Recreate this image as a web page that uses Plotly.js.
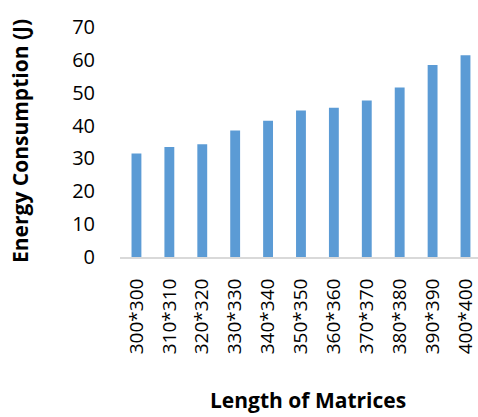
<!DOCTYPE html>
<html>
<head>
<meta charset="utf-8">
<script src="https://cdn.plot.ly/plotly-3.0.1.min.js"></script>
<style>html,body{margin:0;padding:0;background:#fff;}#chart{width:478px;height:417px;}</style>
</head>
<body>
<div id="chart"></div>
<script>
const categories = ["300*300","310*310","320*320","330*330","340*340","350*350","360*360","370*370","380*380","390*390","400*400"];
const energy = [31.5, 33.5, 34.3, 38.5, 41.5, 44.6, 45.4, 47.6, 51.6, 58.4, 61.4];
const yTicks = [0, 10, 20, 30, 40, 50, 60, 70];
const xTitle = "Length of Matrices";
const yTitle = "Energy Consumption (J)";

const font = "'Open Sans', sans-serif";
Plotly.newPlot('chart', [{
  type: 'bar',
  x: categories,
  y: energy,
  marker: {color: '#5B9BD5'},
  width: 0.3,
  hoverinfo: 'none'
}], {
  width: 478, height: 417,
  margin: {l: 120, r: 0, t: 27, b: 160, pad: 0},
  paper_bgcolor: '#fff', plot_bgcolor: '#fff',
  showlegend: false,
  font: {family: font, color: '#000'},
  xaxis: {
    type: 'category',
    range: [-0.5, 10.38],
    tickangle: -90,
    tickfont: {size: 19, family: font, color: '#000'},
    showgrid: false,
    zeroline: false,
    showline: true, linecolor: '#d9d9d9', linewidth: 2,
    ticks: 'outside', ticklen: 12, tickcolor: 'rgba(0,0,0,0)'
  },
  yaxis: {
    range: [0, 70],
    tickvals: yTicks,
    ticktext: yTicks.map(String),
    tickfont: {size: 20, family: font, color: '#000'},
    showgrid: false, zeroline: false, showline: false,
    ticks: 'outside', ticklen: 20, tickcolor: 'rgba(0,0,0,0)'
  },
  annotations: [
    {text: '<b>' + xTitle + '</b>', xref: 'paper', yref: 'paper', x: 0.525, y: -0.62, xanchor: 'center', yanchor: 'middle', showarrow: false, font: {size: 21, family: font, color: '#000'}},
    {text: '<b>' + yTitle + '</b>', xref: 'paper', yref: 'paper', x: -0.279, y: 0.505, xanchor: 'center', yanchor: 'middle', textangle: -90, showarrow: false, font: {size: 21, family: font, color: '#000'}}
  ]
}, {staticPlot: true, displayModeBar: false});
</script>
</body>
</html>
